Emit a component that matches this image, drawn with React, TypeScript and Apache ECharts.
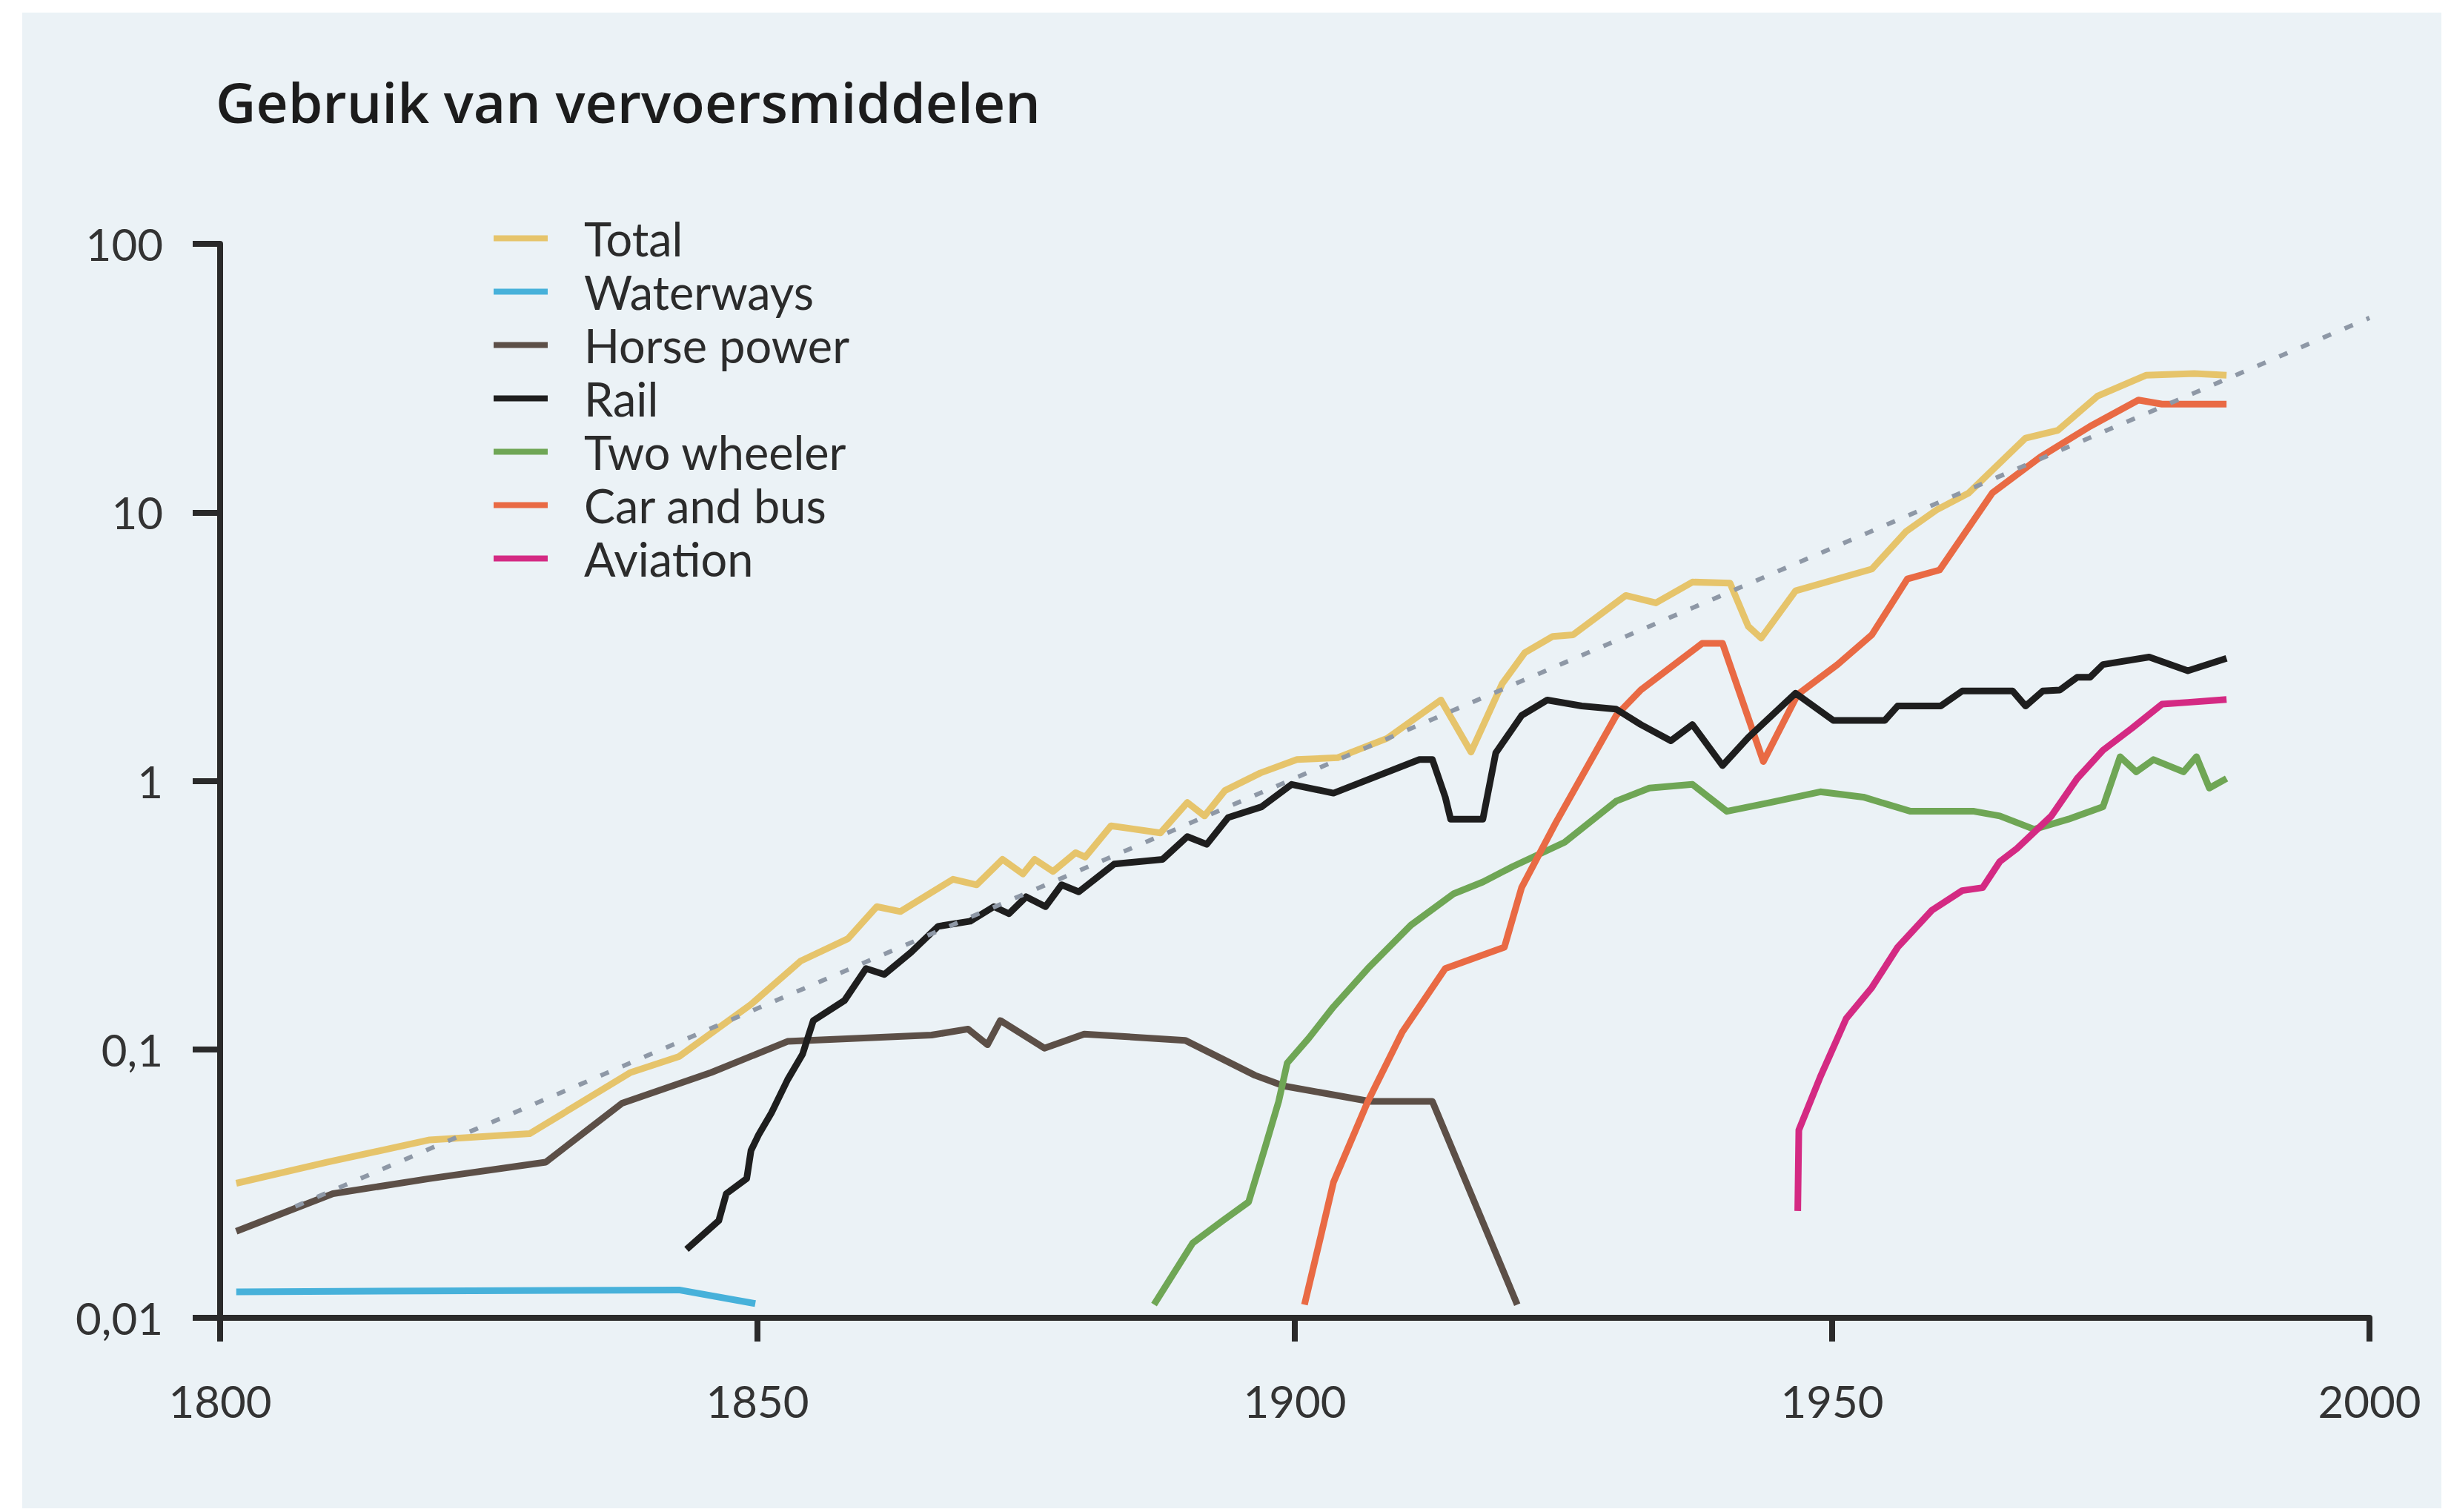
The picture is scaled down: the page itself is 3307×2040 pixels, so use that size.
import React, { useEffect, useRef } from "react";
import * as echarts from "echarts";

const titleText = "Gebruik van vervoersmiddelen";
const seriesNames = ["Total", "Waterways", "Horse power", "Rail", "Two wheeler", "Car and bus", "Aviation"];
const seriesColors = ["#E6C46B", "#47B1DA", "#5C4F47", "#1E1E1E", "#6FA655", "#E96A44", "#D42A83"];
const xTicks = [1800, 1850, 1900, 1950, 2000];
const yTickLabels: Record<string, string> = { "-2": "0,01", "-1": "0,1", "0": "1", "1": "10", "2": "100" };

const total: [number, number][] = [
  [1801.5, 0.0317], [1810, 0.038], [1819.5, 0.046], [1828.8, 0.0485], [1838.2, 0.082], [1842.7, 0.094],
  [1849.4, 0.147], [1854.0, 0.213], [1858.4, 0.258], [1861.1, 0.34], [1863.3, 0.326], [1868.2, 0.43],
  [1870.4, 0.41], [1872.8, 0.51], [1874.7, 0.45], [1875.8, 0.51], [1877.5, 0.46], [1879.6, 0.54],
  [1880.5, 0.52], [1882.9, 0.68], [1887.5, 0.64], [1890.0, 0.83], [1891.6, 0.74], [1893.5, 0.92],
  [1896.8, 1.07], [1900.2, 1.2], [1904.0, 1.22], [1908.6, 1.44], [1913.6, 2.0], [1916.4, 1.28],
  [1919.3, 2.3], [1921.4, 3.0], [1924.0, 3.45], [1925.9, 3.5], [1930.8, 4.9], [1933.6, 4.6],
  [1937.0, 5.5], [1940.5, 5.45], [1942.2, 3.76], [1943.4, 3.4], [1946.6, 5.1], [1953.7, 6.15],
  [1956.9, 8.5], [1959.7, 10.2], [1962.7, 11.8], [1968.0, 18.9], [1971.0, 20.2], [1974.7, 27.1],
  [1979.2, 32.4], [1983.7, 32.9], [1986.7, 32.4],
];
const waterways: [number, number][] = [[1801.5, 0.0125], [1842.7, 0.0127], [1849.8, 0.0113]];
const horsePower: [number, number][] = [
  [1801.5, 0.021], [1810.5, 0.029], [1819.5, 0.033], [1830.3, 0.038], [1837.4, 0.063], [1845.7, 0.082],
  [1852.8, 0.107], [1866.2, 0.113], [1869.6, 0.119], [1871.4, 0.104], [1872.6, 0.128], [1876.7, 0.101],
  [1880.4, 0.114], [1889.8, 0.108], [1896.3, 0.08], [1899.0, 0.073], [1907.0, 0.064], [1912.8, 0.064],
  [1920.7, 0.0112],
];
const rail: [number, number][] = [
  [1843.4, 0.018], [1846.4, 0.023], [1847.1, 0.029], [1849.0, 0.033], [1849.4, 0.042], [1850.1, 0.048],
  [1851.3, 0.058], [1852.8, 0.077], [1854.2, 0.096], [1855.2, 0.128], [1858.1, 0.152], [1860.1, 0.2],
  [1861.8, 0.19], [1864.3, 0.23], [1866.8, 0.287], [1869.8, 0.3], [1872.0, 0.34], [1873.4, 0.32],
  [1875.0, 0.37], [1876.8, 0.34], [1878.3, 0.41], [1879.9, 0.386], [1883.2, 0.49], [1887.7, 0.51],
  [1890.0, 0.62], [1891.8, 0.58], [1893.8, 0.73], [1896.9, 0.8], [1899.7, 0.97], [1903.6, 0.9],
  [1911.6, 1.2], [1912.8, 1.2], [1914.0, 0.87], [1914.5, 0.72], [1917.5, 0.72], [1918.7, 1.27],
  [1921.1, 1.75], [1923.5, 2.0], [1926.7, 1.9], [1929.9, 1.85], [1932.2, 1.62], [1935.0, 1.41],
  [1937.0, 1.62], [1939.8, 1.14], [1942.2, 1.45], [1946.6, 2.12], [1950.1, 1.68], [1954.9, 1.68],
  [1956.1, 1.9], [1960.1, 1.9], [1962.1, 2.16], [1966.8, 2.16], [1968.0, 1.9], [1969.6, 2.16],
  [1971.2, 2.18], [1972.8, 2.43], [1974.0, 2.43], [1975.2, 2.71], [1979.5, 2.89], [1983.1, 2.57],
  [1986.7, 2.86],
];
const twoWheeler: [number, number][] = [
  [1886.9, 0.0112], [1890.5, 0.019], [1893.3, 0.023], [1895.7, 0.027], [1897.3, 0.044], [1898.5, 0.064],
  [1899.3, 0.089], [1901.3, 0.11], [1903.6, 0.144], [1906.8, 0.2], [1910.8, 0.29], [1914.8, 0.38],
  [1917.5, 0.42], [1920.3, 0.48], [1925.1, 0.59], [1929.9, 0.84], [1933.0, 0.94], [1937.0, 0.97],
  [1940.2, 0.77], [1944.2, 0.83], [1948.9, 0.91], [1952.9, 0.87], [1957.3, 0.77], [1963.2, 0.77],
  [1965.6, 0.74], [1968.8, 0.66], [1972.0, 0.72], [1975.2, 0.8], [1976.8, 1.23], [1978.3, 1.08],
  [1979.9, 1.2], [1982.7, 1.08], [1983.9, 1.23], [1985.1, 0.94], [1986.7, 1.02],
];
const carAndBus: [number, number][] = [
  [1900.9, 0.0112], [1902.4, 0.02], [1903.6, 0.032], [1906.8, 0.064], [1910.0, 0.116], [1914.0, 0.2],
  [1919.5, 0.24], [1921.1, 0.4], [1924.3, 0.7], [1929.9, 1.75], [1932.2, 2.18], [1937.9, 3.25],
  [1939.8, 3.25], [1943.6, 1.18], [1946.8, 2.1], [1950.5, 2.71], [1953.7, 3.5], [1957.0, 5.65],
  [1960.0, 6.1], [1964.9, 11.8], [1969.4, 16.1], [1974.0, 20.9], [1978.5, 26.2], [1980.7, 25.3],
  [1986.7, 25.3],
];
const aviation: [number, number][] = [
  [1946.8, 0.025], [1946.9, 0.05], [1948.9, 0.079], [1951.3, 0.13], [1953.7, 0.17], [1956.1, 0.24],
  [1959.3, 0.33], [1962.1, 0.39], [1964.0, 0.4], [1965.6, 0.5], [1967.2, 0.56], [1970.4, 0.74],
  [1972.8, 1.02], [1975.2, 1.3], [1977.9, 1.57], [1980.7, 1.93], [1983.1, 1.96], [1986.7, 2.01],
];
const trend: [number, number][] = [[1807, 0.026], [2000, 53]];

const allData = [total, waterways, horsePower, rail, twoWheeler, carAndBus, aviation];

export default function App() {
  const ref = useRef<HTMLDivElement>(null);
  useEffect(() => {
    const chart = echarts.init(ref.current!, null, { renderer: "svg" });
    const font = "Lato";
    const axisColor = "#2a2a2a";
    const lineSeries = seriesNames.map((name, i) => ({
      name,
      type: "line",
      data: allData[i],
      showSymbol: false,
      symbol: "none",
      color: seriesColors[i],
      lineStyle: { width: 9, color: seriesColors[i], join: "round" },
      z: i === 3 ? 5 : 3,
    }));
    chart.setOption({
      animation: false,
      backgroundColor: "#ffffff",
      graphic: [
        {
          type: "rect",
          left: 30,
          top: 17,
          z: -10,
          shape: { width: 3264, height: 2018 },
          style: { fill: "#EBF2F6" },
        },
      ],
      title: {
        text: titleText,
        left: 286,
        top: 94,
        textStyle: { fontFamily: "Open Sans", fontWeight: 600, fontSize: 75, color: "#1c1c1c" },
      },
      legend: {
        data: seriesNames,
        orient: "vertical",
        left: 661,
        top: 285,
        icon: "rect",
        itemWidth: 73,
        itemHeight: 8,
        itemGap: 9,
        textStyle: {
          fontFamily: font,
          fontSize: 63,
          lineHeight: 60,
          color: "#2b2b2b",
          padding: [0, 0, 0, 44],
        },
      },
      grid: { left: 297, right: 110, top: 329, bottom: 262, containLabel: false },
      xAxis: {
        type: "value",
        min: xTicks[0],
        max: xTicks[xTicks.length - 1],
        interval: 50,
        axisLine: { show: true, lineStyle: { color: axisColor, width: 8 } },
        axisTick: { show: true, inside: false, length: 32, lineStyle: { color: axisColor, width: 8 } },
        axisLabel: { fontFamily: font, fontSize: 60, color: "#333", margin: 82, formatter: (v: number) => String(v) },
        splitLine: { show: false },
      },
      yAxis: {
        type: "log",
        logBase: 10,
        min: 0.01,
        max: 100,
        axisLine: { show: true, lineStyle: { color: axisColor, width: 8 } },
        axisTick: { show: true, inside: false, length: 37, lineStyle: { color: axisColor, width: 8 } },
        axisLabel: {
          fontFamily: font,
          fontSize: 60,
          color: "#333",
          margin: 77,
          formatter: (v: number) => yTickLabels[String(Math.round(Math.log10(v)))] ?? "",
        },
        splitLine: { show: false },
      },
      series: [
        ...lineSeries,
        {
          name: "trend",
          type: "line",
          data: trend,
          showSymbol: false,
          symbol: "none",
          lineStyle: { width: 6, color: "#8E98A6", type: [12, 20] },
          z: 6,
        },
      ],
    });
    return () => chart.dispose();
  }, []);
  return <div ref={ref} style={{ position: "absolute", left: 0, top: 0, width: 3307, height: 2040 }} />;
}
